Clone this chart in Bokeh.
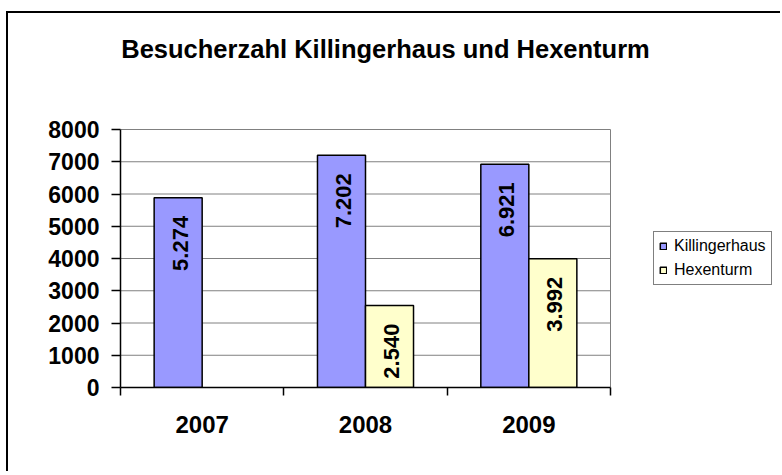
import math
import numpy as np
from bokeh.plotting import figure
from bokeh.models import (Range1d, LinearAxis, FixedTicker, ColumnDataSource,
                          Legend, LegendItem, Label)
from bokeh.transform import dodge
from bokeh.core.properties import value
from bokeh.embed import file_html
from bokeh.resources import INLINE

# ---------------- data ----------------
years = ["2007", "2008", "2009"]
killingerhaus = [5880, 7202, 6921]
killingerhaus_labels = ["5.274", "7.202", "6.921"]
hexenturm = [np.nan, 2540, 3992]
hexenturm_labels = ["", "2.540", "3.992"]
y_ticks = [0, 1000, 2000, 3000, 4000, 5000, 6000, 7000, 8000]
title_text = "Besucherzahl Killingerhaus und Hexenturm"
series_names = ["Killingerhaus", "Hexenturm"]

FONT = "Liberation Sans"
K_COLOR = "#9999FF"
H_COLOR = "#FFFFCC"
GRID = "#808080"

n = len(years)
y_max = y_ticks[-1]
centers = [i + 0.5 for i in range(n)]
boundaries = list(range(n + 1))
src = ColumnDataSource(dict(xc=centers, year=years, k=killingerhaus, kl=killingerhaus_labels,
                            h=hexenturm, hl=hexenturm_labels))

# layout (canvas pixels)
W, H = 774, 460
LEFT, BOTTOM = 112, 86
PLOT_W, PLOT_H = 490, 258          # width / height of the value area
frame_w, frame_h = W - LEFT, H - BOTTOM
x_end = n * frame_w / PLOT_W
y_end = y_max * frame_h / PLOT_H

p = figure(width=W, height=H,
           x_range=Range1d(0, x_end), y_range=Range1d(0, y_end),
           output_backend="svg", toolbar_location=None,
           x_axis_location=None, y_axis_location=None,
           min_border_left=LEFT, min_border_right=0,
           min_border_top=0, min_border_bottom=BOTTOM)
p.margin = (11, 0, 0, 6)
p.styles = {"border-top": "2px solid black", "border-left": "2px solid black"}
p.background_fill_color = "white"
p.border_fill_color = "white"
p.outline_line_color = None
p.grid.visible = False

# grid lines and value-area border (only over the value area)
p.segment(x0=0, x1=n, y0=y_ticks[1:], y1=y_ticks[1:], line_color=GRID, line_width=1)
p.segment(x0=[n], x1=[n], y0=[0], y1=[y_max], line_color=GRID, line_width=1)

# y axis
yaxis = LinearAxis(ticker=FixedTicker(ticks=y_ticks), bounds=(0, y_max))
yaxis.axis_line_color = "black"
yaxis.axis_line_width = 1.5
yaxis.major_tick_line_color = "black"
yaxis.major_tick_line_width = 1.5
yaxis.major_tick_out = 9
yaxis.major_tick_in = 0
yaxis.minor_tick_line_color = None
yaxis.major_label_text_font = FONT
yaxis.major_label_text_font_style = "bold"
yaxis.major_label_text_font_size = "23px"
yaxis.major_label_text_color = "black"
yaxis.major_label_standoff = 12
p.add_layout(yaxis, "left")

# x axis: labels at category centres, tick marks at category boundaries
xaxis = LinearAxis(ticker=FixedTicker(ticks=centers, minor_ticks=boundaries),
                   major_label_overrides={c: y for c, y in zip(centers, years)},
                   bounds=(0, n))
xaxis.axis_line_color = "black"
xaxis.axis_line_width = 1.5
xaxis.major_tick_line_color = None
xaxis.major_tick_out = 8
xaxis.major_tick_in = 0
xaxis.minor_tick_line_color = "black"
xaxis.minor_tick_line_width = 1.5
xaxis.minor_tick_out = 8
xaxis.minor_tick_in = 0
xaxis.major_label_text_font = FONT
xaxis.major_label_text_font_style = "bold"
xaxis.major_label_text_font_size = "24px"
xaxis.major_label_text_color = "black"
xaxis.major_label_standoff = 20
p.add_layout(xaxis, "below")

# bars
w = 0.294
rk = p.vbar(x=dodge("xc", -w / 2), top="k", width=w, source=src,
            fill_color=K_COLOR, line_color="black", line_width=1.5)
rh = p.vbar(x=dodge("xc", w / 2), top="h", width=w, source=src,
            fill_color=H_COLOR, line_color="black", line_width=1.5)

lab_kw = dict(angle=math.pi / 2, text_align="right", text_baseline="middle",
              text_font=value(FONT), text_font_style="bold", text_font_size="22px",
              text_color="black", y_offset=18, x_offset=2)
p.text(x=dodge("xc", -w / 2), y="k", text="kl", source=src, **lab_kw)
p.text(x=dodge("xc", w / 2), y="h", text="hl", source=src, **lab_kw)

# title (centre 265 px right of the value area's left edge, 81 px above its top)
p.add_layout(Label(x=n * 265 / PLOT_W, y=y_max * (1 + 81 / PLOT_H), text=title_text,
                   text_align="center", text_baseline="middle",
                   text_font=FONT, text_font_style="bold", text_font_size="25.5px",
                   text_color="black"))

# legend
legend = Legend(items=[LegendItem(label=series_names[0], renderers=[rk]),
                       LegendItem(label=series_names[1], renderers=[rh])],
                location=(533, 102), orientation="vertical")
legend.border_line_color = "black"
legend.border_line_width = 1.5
legend.background_fill_color = "white"
legend.background_fill_alpha = 1
legend.padding = 5
legend.margin = 0
legend.spacing = 6
legend.label_height = 18
legend.glyph_height = 8
legend.glyph_width = 8
legend.label_standoff = 7
legend.label_text_font = FONT
legend.label_text_font_size = "16px"
legend.label_text_color = "black"
p.add_layout(legend, "center")

open("out.html", "w").write(file_html(p, INLINE))
